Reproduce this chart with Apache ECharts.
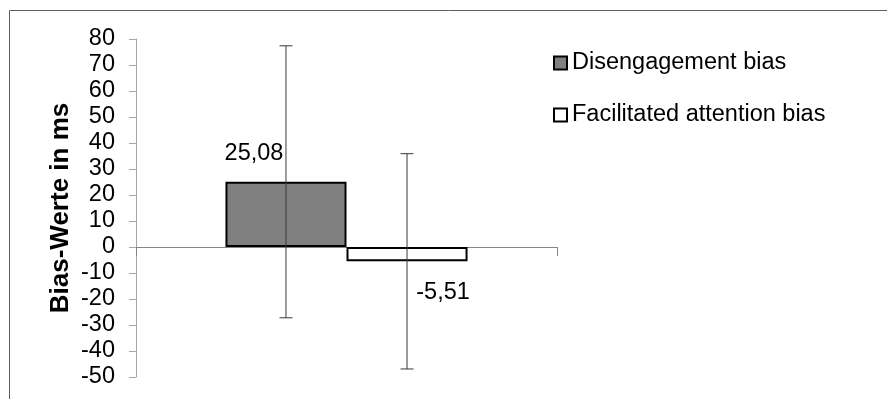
<!DOCTYPE html>
<html>
<head>
<meta charset="utf-8">
<style>html,body{margin:0;padding:0;background:#fff;}#chart{width:887px;height:399px;}</style>
<script src="https://cdn.jsdelivr.net/npm/echarts@6/dist/echarts.min.js"></script>
</head>
<body>
<div id="chart"></div>
<script>
var categories = ['Bias'];
var seriesNames = ['Disengagement bias', 'Facilitated attention bias'];
var means = [25.08, -5.51];
var sds = [52.3, 41.4];
var yTicks = { min: -50, max: 80, interval: 10 };
var yAxisTitle = 'Bias-Werte in ms';

var FONT = '"Liberation Sans", Arial, sans-serif';
var FS = 23.5;
var CAT_GAP = 0.425;
var fmt = function (v) { return String(v.toFixed(2)).replace('.', ','); };

var chart = echarts.init(document.getElementById('chart'), null, { renderer: 'canvas' });

var errData = means.map(function (m, i) { return [0, m - sds[i], m + sds[i], i]; });

var option = {
  animation: false,
  backgroundColor: '#fff',
  graphic: [{
    type: 'rect', silent: true,
    shape: { x: 9.5, y: 10.5, width: 1000, height: 500 },
    style: { fill: 'none', stroke: '#5e5e5e', lineWidth: 1 }
  }],
  grid: { left: 136, right: 330, top: 39, bottom: 22 },
  legend: {
    orient: 'vertical', left: 553, top: 50, padding: 0,
    itemWidth: 13, itemHeight: 13, itemGap: 26,
    icon: 'rect',
    data: seriesNames,
    textStyle: { fontFamily: FONT, fontSize: FS, lineHeight: 26, color: '#000' }
  },
  xAxis: {
    type: 'category', data: categories,
    axisLine: { lineStyle: { color: '#858585', width: 1 } },
    axisTick: { show: true, length: 9, lineStyle: { color: '#858585' } },
    axisLabel: { show: false },
    splitLine: { show: false }
  },
  yAxis: {
    type: 'value', min: yTicks.min, max: yTicks.max, interval: yTicks.interval,
    name: yAxisTitle, nameLocation: 'middle', nameGap: 62, nameRotate: 90,
    nameTextStyle: { fontFamily: FONT, fontSize: 26, fontWeight: 'bold', color: '#000' },
    axisLine: { show: true, lineStyle: { color: '#a6a6a6', width: 1 } },
    axisTick: { show: true, length: 7, lineStyle: { color: '#a6a6a6' } },
    axisLabel: { fontFamily: FONT, fontSize: FS, color: '#000', margin: 21 },
    splitLine: { show: false }
  },
  series: [
    {
      name: seriesNames[0], type: 'bar', data: [means[0]],
      barGap: '0%', barCategoryGap: (CAT_GAP * 100) + '%',
      itemStyle: { color: '#808080', borderColor: '#000', borderWidth: 2 },
      label: {
        show: true, position: 'top', distance: 5, offset: [-32, -11],
        formatter: function (p) { return fmt(p.value); },
        fontFamily: FONT, fontSize: FS, color: '#000'
      }
    },
    {
      name: seriesNames[1], type: 'bar', data: [means[1]],
      itemStyle: { color: '#fff', borderColor: '#000', borderWidth: 2 },
      label: {
        show: true, position: 'bottom', distance: 5, offset: [36, 14],
        formatter: function (p) { return fmt(p.value); },
        fontFamily: FONT, fontSize: FS, color: '#000'
      }
    },
    {
      name: 'err', type: 'custom', data: errData, z: 10,
      renderItem: function (params, api) {
        var cat = api.value(0);
        var lo = api.coord([cat, api.value(1)]);
        var hi = api.coord([cat, api.value(2)]);
        var band = api.size([1, 0])[0];
        var barW = band * (1 - CAT_GAP) / 2;
        var x = lo[0] + (api.value(3) - 0.5) * barW;
        var cap = 6.5;
        var st = { stroke: '#3a3a3a', lineWidth: 1 };
        return {
          type: 'group',
          children: [
            { type: 'line', shape: { x1: x, y1: lo[1], x2: x, y2: hi[1] }, style: st },
            { type: 'line', shape: { x1: x - cap, y1: hi[1], x2: x + cap, y2: hi[1] }, style: st },
            { type: 'line', shape: { x1: x - cap, y1: lo[1], x2: x + cap, y2: lo[1] }, style: st }
          ]
        };
      }
    }
  ]
};
chart.setOption(option);
</script>
</body>
</html>
